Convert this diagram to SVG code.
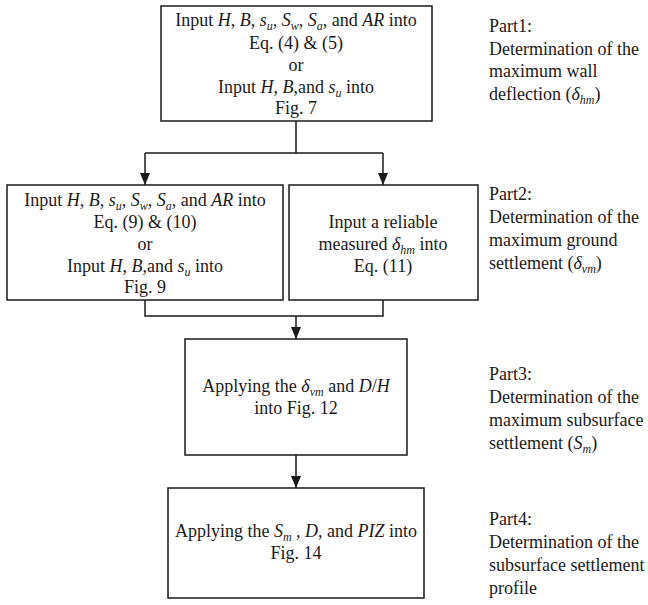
<svg xmlns="http://www.w3.org/2000/svg" width="648" height="605" viewBox="0 0 648 605">
<defs>
<style>
.box{fill:#fff;stroke:#1a1a1a;stroke-width:1.5}
.t{font-family:"Liberation Serif","Times New Roman",serif;font-size:18px;fill:#1a1a1a;text-anchor:middle}
.l{font-family:"Liberation Serif","Times New Roman",serif;font-size:18px;fill:#1a1a1a}
.i{font-style:italic}
.sub{font-size:12px;font-style:italic}
.conn{stroke:#1a1a1a;stroke-width:1.5;fill:none}
</style>
<marker id="arr" markerUnits="userSpaceOnUse" markerWidth="12" markerHeight="12" viewBox="0 0 12 10" refX="12" refY="5" orient="auto">
<path d="M0,0 L12,5 L0,10 z" fill="#1a1a1a"/>
</marker>
</defs>
<rect width="648" height="605" fill="#fff"/>
<g id="connectors">
<path class="conn" d="M296,121 V153 M145,153 H383"/>
<path class="conn" d="M145,153 V185" marker-end="url(#arr)"/>
<path class="conn" d="M383,153 V185" marker-end="url(#arr)"/>
<path class="conn" d="M145,300 V316 H383 V300"/>
<path class="conn" d="M296,316 V339" marker-end="url(#arr)"/>
<path class="conn" d="M296,455 V488" marker-end="url(#arr)"/>
</g>
<g id="box1">
<rect class="box" x="161" y="6" width="271" height="115"/>
<text class="t" x="296" y="26">Input <tspan class="i">H</tspan>, <tspan class="i">B</tspan>, <tspan class="i">s</tspan><tspan class="sub" dy="4">u</tspan><tspan dy="-4">, </tspan><tspan class="i">S</tspan><tspan class="sub" dy="4">w</tspan><tspan dy="-4">, </tspan><tspan class="i">S</tspan><tspan class="sub" dy="4">a</tspan><tspan dy="-4">, and </tspan><tspan class="i">AR</tspan> into</text>
<text class="t" x="296" y="49">Eq. (4) &amp; (5)</text>
<text class="t" x="296" y="71">or</text>
<text class="t" x="296" y="93">Input <tspan class="i">H</tspan>, <tspan class="i">B</tspan>,and <tspan class="i">s</tspan><tspan class="sub" dy="4">u</tspan><tspan dy="-4"> into</tspan></text>
<text class="t" x="296" y="114">Fig. 7</text>
</g>
<g id="box2a">
<rect class="box" x="7" y="185" width="276" height="115"/>
<text class="t" x="145" y="206">Input <tspan class="i">H</tspan>, <tspan class="i">B</tspan>, <tspan class="i">s</tspan><tspan class="sub" dy="4">u</tspan><tspan dy="-4">, </tspan><tspan class="i">S</tspan><tspan class="sub" dy="4">w</tspan><tspan dy="-4">, </tspan><tspan class="i">S</tspan><tspan class="sub" dy="4">a</tspan><tspan dy="-4">, and </tspan><tspan class="i">AR</tspan> into</text>
<text class="t" x="145" y="228">Eq. (9) &amp; (10)</text>
<text class="t" x="145" y="250">or</text>
<text class="t" x="145" y="272">Input <tspan class="i">H</tspan>, <tspan class="i">B</tspan>,and <tspan class="i">s</tspan><tspan class="sub" dy="4">u</tspan><tspan dy="-4"> into</tspan></text>
<text class="t" x="145" y="293">Fig. 9</text>
</g>
<g id="box2b">
<rect class="box" x="289" y="185" width="189" height="115"/>
<text class="t" x="383" y="228">Input a reliable</text>
<text class="t" x="383" y="250">measured <tspan class="i">δ</tspan><tspan class="sub" dy="4">hm</tspan><tspan dy="-4"> into</tspan></text>
<text class="t" x="383" y="272">Eq. (11)</text>
</g>
<g id="box3">
<rect class="box" x="185" y="339" width="222" height="116"/>
<text class="t" x="296" y="392">Applying the <tspan class="i">δ</tspan><tspan class="sub" dy="4">vm</tspan><tspan dy="-4"> and </tspan><tspan class="i">D</tspan>/<tspan class="i">H</tspan></text>
<text class="t" x="296" y="414">into Fig. 12</text>
</g>
<g id="box4">
<rect class="box" x="168" y="488" width="256" height="110"/>
<text class="t" x="296" y="537">Applying the <tspan class="i">S</tspan><tspan class="sub" dy="4">m</tspan><tspan dy="-4"> , </tspan><tspan class="i">D</tspan>, and <tspan class="i">PIZ</tspan> into</text>
<text class="t" x="296" y="559">Fig. 14</text>
</g>
<g id="part1">
<text class="l" x="489" y="32">Part1:</text>
<text class="l" x="489" y="54.5">Determination of the</text>
<text class="l" x="489" y="77">maximum wall</text>
<text class="l" x="489" y="99.5">deflection (<tspan class="i">δ</tspan><tspan class="sub" dy="4">hm</tspan><tspan dy="-4">)</tspan></text>
</g>
<g id="part2">
<text class="l" x="489" y="200">Part2:</text>
<text class="l" x="489" y="223">Determination of the</text>
<text class="l" x="489" y="246">maximum ground</text>
<text class="l" x="489" y="269">settlement (<tspan class="i">δ</tspan><tspan class="sub" dy="4">vm</tspan><tspan dy="-4">)</tspan></text>
</g>
<g id="part3">
<text class="l" x="489" y="380">Part3:</text>
<text class="l" x="489" y="403">Determination of the</text>
<text class="l" x="489" y="426">maximum subsurface</text>
<text class="l" x="489" y="449">settlement (<tspan class="i">S</tspan><tspan class="sub" dy="4">m</tspan><tspan dy="-4">)</tspan></text>
</g>
<g id="part4">
<text class="l" x="489" y="525">Part4:</text>
<text class="l" x="489" y="548">Determination of the</text>
<text class="l" x="489" y="571">subsurface settlement</text>
<text class="l" x="489" y="594">profile</text>
</g>
</svg>
